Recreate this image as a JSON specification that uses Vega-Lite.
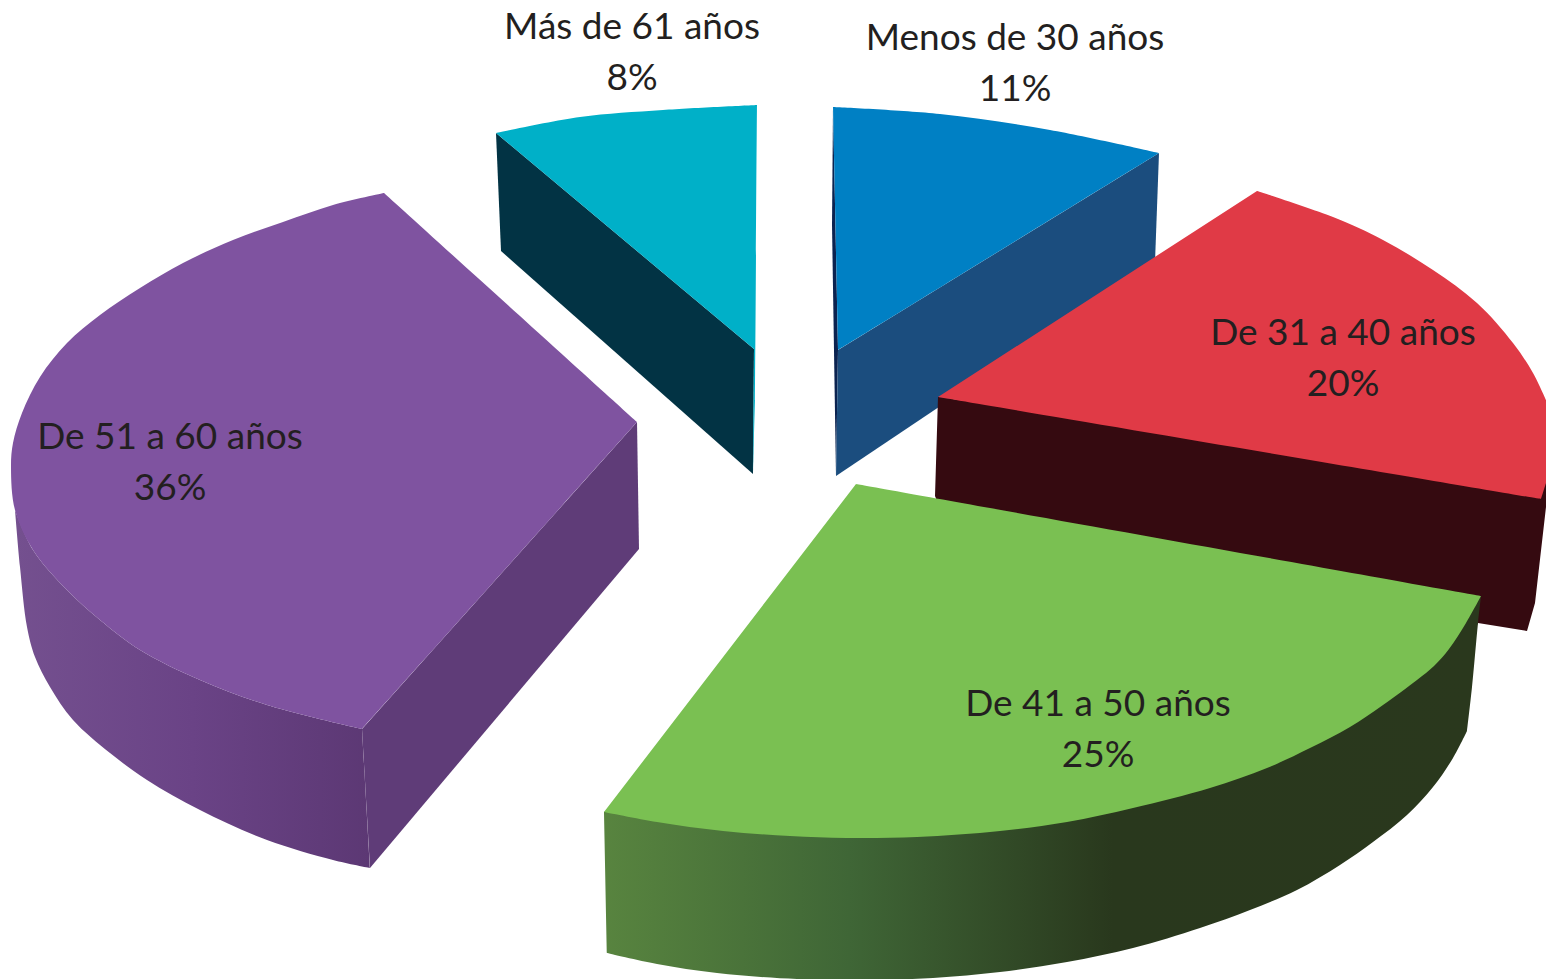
{"$schema":"https://vega.github.io/schema/vega-lite/v6.json","width":1546,"height":979,"autosize":"none","padding":0,"background":"white","view":{"stroke":null},
"resolve":{"scale":{"color":"independent"}},
"datasets":{"shapes":[
{"part":"teal side","i":0,"x":496,"y":133},{"part":"teal side","i":1,"x":754,"y":349},{"part":"teal side","i":2,"x":753,"y":474},{"part":"teal side","i":3,"x":501,"y":251},
{"part":"blue edge","i":0,"x":833,"y":107},{"part":"blue edge","i":1,"x":832,"y":225},{"part":"blue edge","i":2,"x":836,"y":476},{"part":"blue edge","i":3,"x":838,"y":350},
{"part":"blue side","i":0,"x":838,"y":350},{"part":"blue side","i":1,"x":1159,"y":153},{"part":"blue side","i":2,"x":1155,"y":262},{"part":"blue side","i":3,"x":836,"y":476},
{"part":"red side","i":0,"x":938,"y":397},{"part":"red side","i":1,"x":1546,"y":480},{"part":"red side","i":2,"x":1546,"y":507},{"part":"red side","i":3,"x":1535,"y":603},{"part":"red side","i":4,"x":1527,"y":631},{"part":"red side","i":5,"x":1478,"y":623},{"part":"red side","i":6,"x":1470,"y":640},{"part":"red side","i":7,"x":945,"y":520},{"part":"red side","i":8,"x":935,"y":496},
{"part":"purple inner","i":0,"x":362,"y":729},{"part":"purple inner","i":1,"x":637,"y":422},{"part":"purple inner","i":2,"x":639,"y":549},{"part":"purple inner","i":3,"x":370,"y":868},

{"part":"teal top","i":0,"x":496,"y":133},{"part":"teal top","i":1,"x":496,"y":133},{"part":"teal top","i":2,"x":580,"y":117},{"part":"teal top","i":3,"x":663,"y":110},{"part":"teal top","i":4,"x":757,"y":105},{"part":"teal top","i":5,"x":757,"y":105},{"part":"teal top","i":6,"x":755,"y":400},{"part":"teal top","i":7,"x":755,"y":400},{"part":"teal top","i":8,"x":753,"y":474},{"part":"teal top","i":9,"x":753,"y":474},{"part":"teal top","i":10,"x":754,"y":349},{"part":"teal top","i":11,"x":754,"y":349},
{"part":"blue top","i":0,"x":833,"y":107},{"part":"blue top","i":1,"x":833,"y":107},{"part":"blue top","i":2,"x":940,"y":114},{"part":"blue top","i":3,"x":1050,"y":130},{"part":"blue top","i":4,"x":1159,"y":153},{"part":"blue top","i":5,"x":1159,"y":153},{"part":"blue top","i":6,"x":838,"y":350},{"part":"blue top","i":7,"x":838,"y":350},
{"part":"red top","i":0,"x":1257,"y":191},{"part":"red top","i":1,"x":1257,"y":191},{"part":"red top","i":2,"x":1333,"y":217},{"part":"red top","i":3,"x":1383,"y":240},{"part":"red top","i":4,"x":1433,"y":270},{"part":"red top","i":5,"x":1477,"y":303},{"part":"red top","i":6,"x":1513,"y":343},{"part":"red top","i":7,"x":1533,"y":373},{"part":"red top","i":8,"x":1546,"y":400},{"part":"red top","i":9,"x":1546,"y":400},{"part":"red top","i":10,"x":1546,"y":483},{"part":"red top","i":11,"x":1546,"y":483},{"part":"red top","i":12,"x":1541,"y":499},{"part":"red top","i":13,"x":1541,"y":499},{"part":"red top","i":14,"x":938,"y":397},{"part":"red top","i":15,"x":938,"y":397},

{"part":"purple outer","i":0,"x":15,"y":510},{"part":"purple outer","i":1,"x":15,"y":510},{"part":"purple outer","i":2,"x":20,"y":567},{"part":"purple outer","i":3,"x":27,"y":627},{"part":"purple outer","i":4,"x":35,"y":657},{"part":"purple outer","i":5,"x":50,"y":687},{"part":"purple outer","i":6,"x":73,"y":720},{"part":"purple outer","i":7,"x":110,"y":753},{"part":"purple outer","i":8,"x":147,"y":780},{"part":"purple outer","i":9,"x":200,"y":810},{"part":"purple outer","i":10,"x":267,"y":840},{"part":"purple outer","i":11,"x":333,"y":860},{"part":"purple outer","i":12,"x":370,"y":868},{"part":"purple outer","i":13,"x":370,"y":868},{"part":"purple outer","i":14,"x":362,"y":729},{"part":"purple outer","i":15,"x":362,"y":729},{"part":"purple outer","i":16,"x":267,"y":705},{"part":"purple outer","i":17,"x":200,"y":680},{"part":"purple outer","i":18,"x":140,"y":650},{"part":"purple outer","i":19,"x":100,"y":620},{"part":"purple outer","i":20,"x":67,"y":590},{"part":"purple outer","i":21,"x":33,"y":550},{"part":"purple outer","i":22,"x":15,"y":510},

{"part":"green side","i":0,"x":604,"y":812},{"part":"green side","i":1,"x":604,"y":812},{"part":"green side","i":2,"x":607,"y":953},{"part":"green side","i":3,"x":607,"y":953},{"part":"green side","i":4,"x":657,"y":964},{"part":"green side","i":5,"x":717,"y":973},{"part":"green side","i":6,"x":797,"y":979},{"part":"green side","i":7,"x":865,"y":980},{"part":"green side","i":8,"x":933,"y":978},{"part":"green side","i":9,"x":1000,"y":972},{"part":"green side","i":10,"x":1067,"y":962},{"part":"green side","i":11,"x":1133,"y":948},{"part":"green side","i":12,"x":1200,"y":928},{"part":"green side","i":13,"x":1250,"y":910},{"part":"green side","i":14,"x":1297,"y":890},{"part":"green side","i":15,"x":1340,"y":865},{"part":"green side","i":16,"x":1373,"y":842},{"part":"green side","i":17,"x":1407,"y":815},{"part":"green side","i":18,"x":1433,"y":787},{"part":"green side","i":19,"x":1453,"y":758},{"part":"green side","i":20,"x":1467,"y":731},{"part":"green side","i":21,"x":1467,"y":731},{"part":"green side","i":22,"x":1472,"y":687},{"part":"green side","i":23,"x":1478,"y":623},{"part":"green side","i":24,"x":1481,"y":596},{"part":"green side","i":25,"x":1481,"y":596},{"part":"green side","i":26,"x":1300,"y":600},{"part":"green side","i":27,"x":1300,"y":600},{"part":"green side","i":28,"x":800,"y":700},{"part":"green side","i":29,"x":800,"y":700},

{"part":"purple top","i":0,"x":384,"y":193},{"part":"purple top","i":1,"x":384,"y":193},{"part":"purple top","i":2,"x":637,"y":422},{"part":"purple top","i":3,"x":637,"y":422},{"part":"purple top","i":4,"x":362,"y":729},{"part":"purple top","i":5,"x":362,"y":729},{"part":"purple top","i":6,"x":267,"y":705},{"part":"purple top","i":7,"x":200,"y":680},{"part":"purple top","i":8,"x":140,"y":650},{"part":"purple top","i":9,"x":100,"y":620},{"part":"purple top","i":10,"x":67,"y":590},{"part":"purple top","i":11,"x":33,"y":550},{"part":"purple top","i":12,"x":15,"y":510},{"part":"purple top","i":13,"x":11,"y":467},{"part":"purple top","i":14,"x":13,"y":443},{"part":"purple top","i":15,"x":22,"y":413},{"part":"purple top","i":16,"x":40,"y":377},{"part":"purple top","i":17,"x":67,"y":343},{"part":"purple top","i":18,"x":100,"y":315},{"part":"purple top","i":19,"x":140,"y":288},{"part":"purple top","i":20,"x":183,"y":263},{"part":"purple top","i":21,"x":233,"y":240},{"part":"purple top","i":22,"x":283,"y":222},{"part":"purple top","i":23,"x":333,"y":205},{"part":"purple top","i":24,"x":384,"y":193},

{"part":"green top","i":0,"x":856,"y":484},{"part":"green top","i":1,"x":856,"y":484},{"part":"green top","i":2,"x":1481,"y":596},{"part":"green top","i":3,"x":1481,"y":596},{"part":"green top","i":4,"x":1466,"y":623},{"part":"green top","i":5,"x":1449,"y":649},{"part":"green top","i":6,"x":1434,"y":666},{"part":"green top","i":7,"x":1417,"y":680},{"part":"green top","i":8,"x":1383,"y":705},{"part":"green top","i":9,"x":1350,"y":727},{"part":"green top","i":10,"x":1310,"y":748},{"part":"green top","i":11,"x":1267,"y":768},{"part":"green top","i":12,"x":1210,"y":788},{"part":"green top","i":13,"x":1133,"y":808},{"part":"green top","i":14,"x":1067,"y":822},{"part":"green top","i":15,"x":1000,"y":831},{"part":"green top","i":16,"x":917,"y":837},{"part":"green top","i":17,"x":847,"y":838},{"part":"green top","i":18,"x":790,"y":836},{"part":"green top","i":19,"x":723,"y":831},{"part":"green top","i":20,"x":657,"y":822},{"part":"green top","i":21,"x":604,"y":812},{"part":"green top","i":22,"x":604,"y":812}
],
"labels":[
{"text":"Más de 61 años","x":632,"y":39},{"text":"8%","x":632,"y":90},
{"text":"Menos de 30 años","x":1015,"y":50},{"text":"11%","x":1015,"y":101},
{"text":"De 31 a 40 años","x":1343,"y":345},{"text":"20%","x":1343,"y":396},
{"text":"De 41 a 50 años","x":1098,"y":716},{"text":"25%","x":1098,"y":767},
{"text":"De 51 a 60 años","x":170,"y":449},{"text":"36%","x":170,"y":500}
]},
"layer":[
{"data":{"name":"shapes"},"transform":[{"filter":"indexof(['teal side','blue edge','blue side','red side','purple inner'], datum.part) >= 0"}],
"mark":{"type":"line","filled":true,"interpolate":"linear-closed","strokeWidth":0},
"encoding":{"x":{"field":"x","type":"quantitative","scale":{"domain":[0,1546]},"axis":null},"y":{"field":"y","type":"quantitative","scale":{"domain":[979,0]},"axis":null},"order":{"field":"i"},"detail":{"field":"part"},
"color":{"field":"part","type":"nominal","legend":null,"sort":null,"scale":{"domain":["teal side","blue edge","blue side","red side","purple inner"],"range":["#023344","#0b2350","#1b4d7e","#350a10","#5f3c78"]}}}},
{"data":{"name":"shapes"},"transform":[{"filter":"indexof(['teal top','blue top','red top'], datum.part) >= 0"}],
"mark":{"type":"line","filled":true,"interpolate":"catmull-rom","strokeWidth":0},
"encoding":{"x":{"field":"x","type":"quantitative","scale":{"domain":[0,1546]},"axis":null},"y":{"field":"y","type":"quantitative","scale":{"domain":[979,0]},"axis":null},"order":{"field":"i"},"detail":{"field":"part"},
"color":{"field":"part","type":"nominal","legend":null,"sort":null,"scale":{"domain":["teal top","blue top","red top"],"range":["#00b0c8","#0080c4","#e03a46"]}}}},
{"data":{"name":"shapes"},"transform":[{"filter":"datum.part == 'purple outer'"}],
"mark":{"type":"line","filled":true,"interpolate":"catmull-rom","strokeWidth":0,"fill":{"gradient":"linear","x1":0,"y1":0,"x2":1,"y2":0,"stops":[{"offset":0,"color":"#74508f"},{"offset":0.5,"color":"#6a4386"},{"offset":1,"color":"#5c3874"}]}},
"encoding":{"x":{"field":"x","type":"quantitative","scale":{"domain":[0,1546]},"axis":null},"y":{"field":"y","type":"quantitative","scale":{"domain":[979,0]},"axis":null},"order":{"field":"i"}}},
{"data":{"name":"shapes"},"transform":[{"filter":"datum.part == 'green side'"}],
"mark":{"type":"line","filled":true,"interpolate":"catmull-rom","strokeWidth":0,"fill":{"gradient":"linear","x1":0,"y1":0,"x2":1,"y2":0,"stops":[{"offset":0,"color":"#58843f"},{"offset":0.28,"color":"#3f6636"},{"offset":0.58,"color":"#29381d"},{"offset":1,"color":"#2a381d"}]}},
"encoding":{"x":{"field":"x","type":"quantitative","scale":{"domain":[0,1546]},"axis":null},"y":{"field":"y","type":"quantitative","scale":{"domain":[979,0]},"axis":null},"order":{"field":"i"}}},
{"data":{"name":"shapes"},"transform":[{"filter":"datum.part == 'purple top'"}],
"mark":{"type":"line","filled":true,"interpolate":"catmull-rom","strokeWidth":0,"fill":"#7f53a0"},
"encoding":{"x":{"field":"x","type":"quantitative","scale":{"domain":[0,1546]},"axis":null},"y":{"field":"y","type":"quantitative","scale":{"domain":[979,0]},"axis":null},"order":{"field":"i"}}},
{"data":{"name":"shapes"},"transform":[{"filter":"datum.part == 'green top'"}],
"mark":{"type":"line","filled":true,"interpolate":"catmull-rom","strokeWidth":0,"fill":"#7ac052"},
"encoding":{"x":{"field":"x","type":"quantitative","scale":{"domain":[0,1546]},"axis":null},"y":{"field":"y","type":"quantitative","scale":{"domain":[979,0]},"axis":null},"order":{"field":"i"}}},
{"data":{"name":"labels"},
"mark":{"type":"text","font":"Lato","fontSize":37,"align":"center","baseline":"alphabetic","fill":"#231f20"},
"encoding":{"x":{"field":"x","type":"quantitative","scale":{"domain":[0,1546]},"axis":null},"y":{"field":"y","type":"quantitative","scale":{"domain":[979,0]},"axis":null},"text":{"field":"text"}}}
]}
